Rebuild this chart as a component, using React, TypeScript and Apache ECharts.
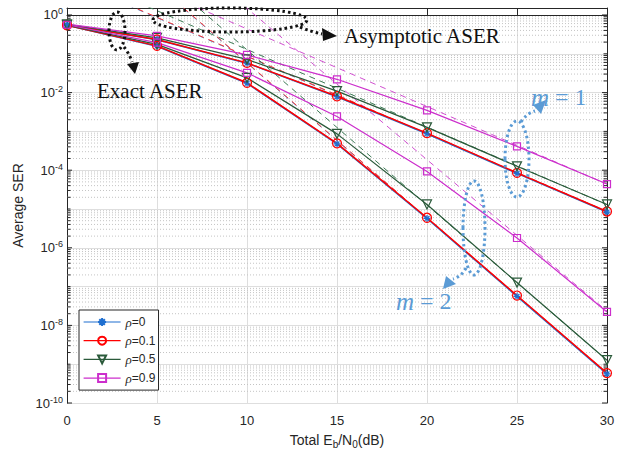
import React, { useEffect, useRef } from "react";
import * as echarts from "echarts";

// Total Eb/N0 in dB
const snrDb = [0, 5, 10, 15, 20, 25, 30];
const legendNames = ["ρ=0", "ρ=0.1", "ρ=0.5", "ρ=0.9"];
const yTickDecades = [-10, -8, -6, -4, -2, 0];

// Exact ASER, m = 1
const exactM1Rho0 = [0.56, 0.231, 0.0572, 0.0078, 8.7e-4, 8.25e-5, 8.35e-6];
const exactM1Rho01 = [0.56, 0.234, 0.0583, 0.00804, 9.0e-4, 8.53e-5, 8.63e-6];
const exactM1Rho05 = [0.57, 0.256, 0.0718, 0.01094, 1.27e-3, 1.26e-4, 1.31e-5];
const exactM1Rho09 = [0.58, 0.288, 0.0938, 0.022, 3.47e-3, 4.11e-4, 4.4e-5];
// Exact ASER, m = 2
const exactM2Rho0 = [0.54, 0.157, 0.0174, 4.75e-4, 5.7e-6, 5.6e-8, 5.6e-10];
const exactM2Rho01 = [0.54, 0.16, 0.0179, 4.92e-4, 5.94e-6, 5.88e-8, 5.9e-10];
const exactM2Rho05 = [0.55, 0.175, 0.024, 8.63e-4, 1.31e-5, 1.27e-7, 1.27e-9];
const exactM2Rho09 = [0.56, 0.194, 0.0323, 2.43e-3, 9.3e-5, 1.79e-6, 2.22e-8];

// Asymptotic ASER, m = 1
const asymM1Rho0 = [8.5, 0.85, 0.085, 8.5e-3, 8.5e-4, 8.5e-5, 8.5e-6];
const asymM1Rho01 = [8.7, 0.87, 0.087, 8.7e-3, 8.7e-4, 8.7e-5, 8.7e-6];
const asymM1Rho05 = [12.9, 1.29, 0.129, 0.0129, 1.29e-3, 1.29e-4, 1.29e-5];
const asymM1Rho09 = [43.7, 4.37, 0.437, 0.0437, 4.37e-3, 4.37e-4, 4.37e-5];
// Asymptotic ASER, m = 2
const asymM2Rho0 = [575, 5.75, 0.0575, 5.75e-4, 5.75e-6, 5.75e-8, 5.75e-10];
const asymM2Rho01 = [590, 5.9, 0.059, 5.9e-4, 5.9e-6, 5.9e-8, 5.9e-10];
const asymM2Rho05 = [1260, 12.6, 0.126, 1.26e-3, 1.26e-5, 1.26e-7, 1.26e-9];
const asymM2Rho09 = [11750, 132, 1.48, 0.0166, 1.86e-4, 2.09e-6, 2.34e-8];

const exactByRho = [
  [exactM1Rho0, exactM2Rho0],
  [exactM1Rho01, exactM2Rho01],
  [exactM1Rho05, exactM2Rho05],
  [exactM1Rho09, exactM2Rho09],
];
const asymByRho = [
  [asymM1Rho0, asymM2Rho0],
  [asymM1Rho01, asymM2Rho01],
  [asymM1Rho05, asymM2Rho05],
  [asymM1Rho09, asymM2Rho09],
];

const solidColors = ["#1f6fd0", "#ff0000", "#2a5a3a", "#cc2ecc"];
const dashColors = ["#3f9be0", "#ff3030", "#3d7a55", "#d050d0"];
const lineWidths = [1.5, 1.5, 1.2, 1.2];
const ASTERISK =
  "path://M0,-1L0,1M-1,0L1,0M-0.7,-0.7L0.7,0.7M-0.7,0.7L0.7,-0.7";
const symbols = [ASTERISK, "circle", "triangle", "rect"];
const symbolSizes = [7, 9, 9, 7];
const symbolRotates = [0, 0, 180, 0];

const TEXT = "#262626";
const SANS = "'Liberation Sans', Arial, sans-serif";
const SERIF = "'Liberation Serif', 'Times New Roman', serif";
const BLUE_NOTE = "#5b9bd5";

const toPairs = (vals: number[]) => snrDb.map((x, i) => [x, Math.log10(vals[i])]);

export default function App() {
  const ref = useRef<HTMLDivElement>(null);

  useEffect(() => {
    if (!ref.current) return;
    const chart = echarts.init(ref.current, undefined, { renderer: "svg" });

    // log-scale grid lines / ticks (minor at 2..9 x 10^n)
    const gridRows: number[][] = [];
    for (let n = -10; n <= 0; n++) {
      gridRows.push([0, n, n % 2 === 0 ? 5 : 3.5, 0]);
      if (n < 0) {
        for (let k = 2; k <= 9; k++) gridRows.push([0, n + Math.log10(k), 3.5, 1]);
      }
    }

    const series: any[] = [];
    series.push({
      type: "custom",
      name: "grid",
      silent: true,
      z: 1,
      data: gridRows,
      encode: { x: 0, y: 1 },
      renderItem: (_p: any, api: any) => {
        const v = api.value(1);
        const len = api.value(2);
        const dotted = api.value(3);
        const a = api.coord([0, v]);
        const b = api.coord([30, v]);
        const children: any[] = [];
        if (dotted) {
          children.push({
            type: "line",
            shape: { x1: a[0], y1: a[1], x2: b[0], y2: b[1] },
            style: { stroke: "#c4c4c4", lineWidth: 1, lineDash: [1, 2] },
          });
        }
        children.push({
          type: "line",
          shape: { x1: a[0], y1: a[1], x2: a[0] + len, y2: a[1] },
          style: { stroke: TEXT, lineWidth: 1 },
        });
        children.push({
          type: "line",
          shape: { x1: b[0] - len, y1: b[1], x2: b[0], y2: b[1] },
          style: { stroke: TEXT, lineWidth: 1 },
        });
        return { type: "group", children };
      },
    });

    // asymptotic (dashed) first so exact curves are on top
    asymByRho.forEach((pair, r) => {
      pair.forEach((vals, mi) => {
        series.push({
          type: "line",
          name: `asym ${legendNames[r]} m${mi + 1}`,
          data: toPairs(vals),
          showSymbol: false,
          symbol: "none",
          silent: true,
          z: 2,
          lineStyle: { color: dashColors[r], width: 1, type: [6, 5] },
          itemStyle: { color: dashColors[r] },
        });
      });
    });
    for (let mi = 0; mi < 2; mi++) {
      exactByRho.forEach((pair, r) => {
        series.push({
          type: "line",
          name: legendNames[r],
          data: toPairs(pair[mi]),
          symbol: symbols[r],
          symbolSize: symbolSizes[r],
          symbolRotate: symbolRotates[r],
          showSymbol: true,
          silent: true,
          z: 3,
          lineStyle: { color: solidColors[r], width: lineWidths[r] },
          itemStyle: {
            color: "rgba(0,0,0,0)",
            borderColor: solidColors[r],
            borderWidth: 1.2,
          },
        });
      });
    }

    const dotBlack = { stroke: "#111", lineWidth: 3, lineDash: [2.5, 3], fill: "none" };
    const dotBlue = { stroke: BLUE_NOTE, lineWidth: 3, lineDash: [2.5, 3], fill: "none" };

    const option: any = {
      animation: false,
      backgroundColor: "#fff",
      grid: { left: 67, right: 20, top: 8, bottom: 50, containLabel: false },
      xAxis: [
        {
          type: "value",
          min: 0,
          max: 30,
          interval: 5,
          name: "Total E{sub|b}/N{sub|0}(dB)",
          nameLocation: "middle",
          nameGap: 28,
          nameTextStyle: {
            fontFamily: SANS,
            fontSize: 14,
            color: TEXT,
            rich: {
              sub: { fontFamily: SANS, fontSize: 10, color: TEXT, padding: [8, 0, 0, 0] },
            },
          },
          axisLine: { show: true, lineStyle: { color: TEXT, width: 1 } },
          axisTick: { show: true, inside: true, length: 5, lineStyle: { color: TEXT } },
          axisLabel: { fontFamily: SANS, fontSize: 13, color: TEXT, margin: 11 },
          splitLine: { show: true, lineStyle: { color: "#dedede", width: 1 } },
        },
        {
          type: "value",
          position: "top",
          min: 0,
          max: 30,
          interval: 5,
          axisLine: { show: true, onZero: false, lineStyle: { color: TEXT, width: 1 } },
          axisTick: { show: true, inside: true, length: 5, lineStyle: { color: TEXT } },
          axisLabel: { show: false },
          splitLine: { show: false },
        },
      ],
      yAxis: [
        {
          type: "value",
          min: -10,
          max: 0.18,
          interval: 1,
          name: "Average SER",
          nameLocation: "middle",
          nameGap: 34,
          nameTextStyle: { fontFamily: SANS, fontSize: 14, color: TEXT },
          axisLine: { show: true, onZero: false, lineStyle: { color: TEXT, width: 1 } },
          axisTick: { show: false },
          axisLabel: {
            margin: 4,
            formatter: (v: number) => {
              const r = Math.round(v);
              if (Math.abs(v - r) > 1e-6 || !yTickDecades.includes(r)) return "";
              return `{b|10}{s|${r}}`;
            },
            rich: {
              b: { fontFamily: SANS, fontSize: 13, color: TEXT },
              s: { fontFamily: SANS, fontSize: 9, color: TEXT, padding: [0, 0, 7, 0] },
            },
          },
          splitLine: { show: true, lineStyle: { color: "#dedede", width: 1 } },
        },
        {
          type: "value",
          position: "right",
          min: -10,
          max: 0.18,
          interval: 1,
          axisLine: { show: true, onZero: false, lineStyle: { color: TEXT, width: 1 } },
          axisTick: { show: false },
          axisLabel: { show: false },
          splitLine: { show: false },
        },
      ],
      legend: {
        data: legendNames,
        orient: "vertical",
        left: 79,
        top: 310,
        itemWidth: 37,
        itemHeight: 10,
        itemGap: 4.7,
        padding: [5, 3, 5, 4],
        selectedMode: false,
        backgroundColor: "#fff",
        borderColor: TEXT,
        borderWidth: 1,
        borderRadius: 0,
        lineStyle: { width: 1.2 },
        formatter: (name: string) => `{i|ρ}{n|${name.slice(1)}}`,
        textStyle: {
          fontFamily: SANS,
          fontSize: 12,
          color: TEXT,
          lineHeight: 14,
          rich: {
            i: { fontFamily: SERIF, fontStyle: "italic", fontSize: 13, color: TEXT },
            n: { fontFamily: SANS, fontSize: 12, color: TEXT },
          },
        },
      },
      series,
      graphic: [
        // "Exact ASER" loop + arrow
        { type: "ellipse", silent: true, z: 50, shape: { cx: 117, cy: 31, rx: 8, ry: 19 }, style: dotBlack },
        { type: "bezierCurve", silent: true, z: 50, shape: { x1: 124, y1: 47, x2: 132, y2: 62, cpx1: 129, cpy1: 53 }, style: dotBlack },
        { type: "polygon", silent: true, z: 50, shape: { points: [[135, 74], [127, 64], [139, 62]] }, style: { fill: "#111" } },
        // "Asymptotic ASER" loop + arrow
        { type: "ellipse", silent: true, z: 50, shape: { cx: 230, cy: 20, rx: 77, ry: 12 }, style: dotBlack },
        { type: "bezierCurve", silent: true, z: 50, shape: { x1: 300, y1: 27, x2: 322, y2: 34, cpx1: 312, cpy1: 32 }, style: dotBlack },
        { type: "polygon", silent: true, z: 50, shape: { points: [[337, 36], [322, 28], [323, 41]] }, style: { fill: "#111" } },
        // m = 1 loop + arrow
        { type: "ellipse", silent: true, z: 50, shape: { cx: 517, cy: 159, rx: 12, ry: 38 }, style: dotBlue },
        { type: "bezierCurve", silent: true, z: 50, shape: { x1: 521, y1: 122, x2: 535, y2: 111, cpx1: 527, cpy1: 113 }, style: dotBlue },
        { type: "polygon", silent: true, z: 50, shape: { points: [[546, 100], [533, 105], [541, 114]] }, style: { fill: BLUE_NOTE } },
        // m = 2 loop + arrow
        { type: "ellipse", silent: true, z: 50, shape: { cx: 474, cy: 228, rx: 11, ry: 47 }, style: dotBlue },
        { type: "bezierCurve", silent: true, z: 50, shape: { x1: 466, y1: 268, x2: 453, y2: 279, cpx1: 462, cpy1: 276 }, style: dotBlue },
        { type: "polygon", silent: true, z: 50, shape: { points: [[443, 289], [446, 276], [456, 284]] }, style: { fill: BLUE_NOTE } },
        // texts
        {
          type: "text", silent: true, z: 60, x: 97, y: 91,
          style: { text: "Exact ASER", fontFamily: SERIF, fontSize: 21, fill: "#111", verticalAlign: "middle", align: "left" },
        },
        {
          type: "text", silent: true, z: 60, x: 344, y: 36,
          style: { text: "Asymptotic ASER", fontFamily: SERIF, fontSize: 21, fill: "#111", verticalAlign: "middle", align: "left" },
        },
        {
          type: "text", silent: true, z: 60, x: 531, y: 97,
          style: {
            text: "{i|m} = 1", fontFamily: SERIF, fontSize: 24, fill: BLUE_NOTE, verticalAlign: "middle", align: "left",
            rich: { i: { fontFamily: SERIF, fontStyle: "italic", fontSize: 25, fill: BLUE_NOTE } },
          },
        },
        {
          type: "text", silent: true, z: 60, x: 396, y: 301,
          style: {
            text: "{i|m} = 2", fontFamily: SERIF, fontSize: 24, fill: BLUE_NOTE, verticalAlign: "middle", align: "left",
            rich: { i: { fontFamily: SERIF, fontStyle: "italic", fontSize: 25, fill: BLUE_NOTE } },
          },
        },
      ],
    };

    chart.setOption(option);
    return () => chart.dispose();
  }, []);

  return (
    <div
      ref={ref}
      style={{ position: "fixed", left: 0, top: 0, width: 627, height: 454, background: "#fff" }}
    />
  );
}
